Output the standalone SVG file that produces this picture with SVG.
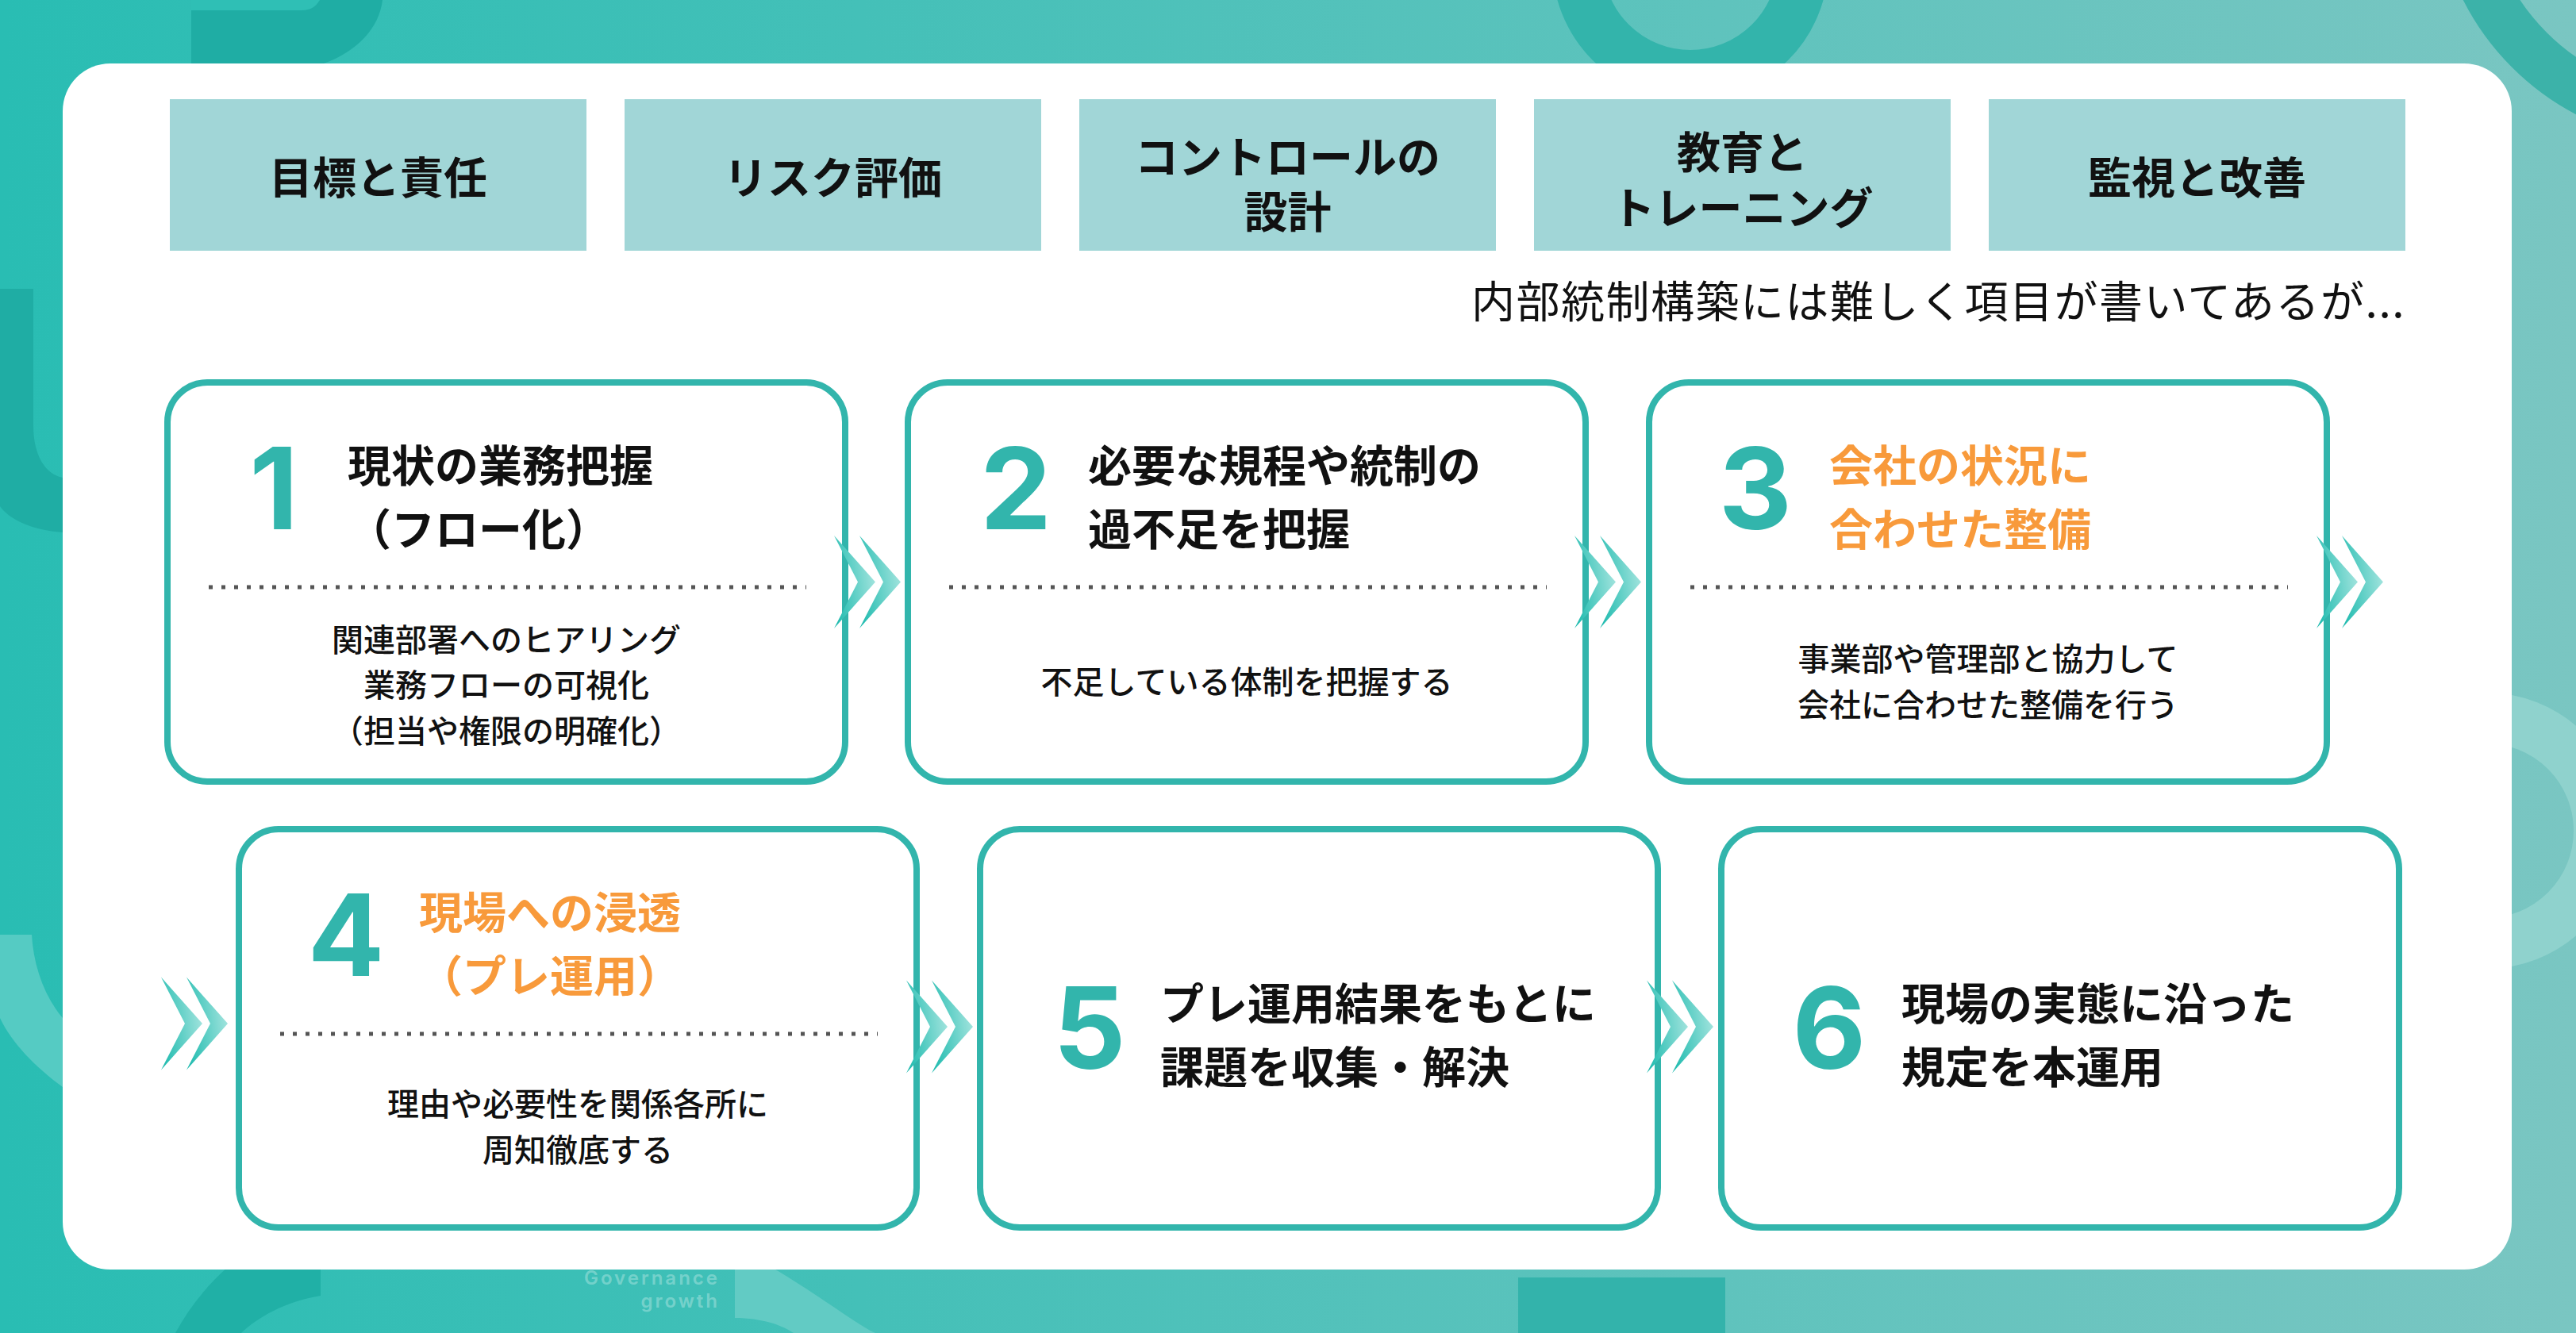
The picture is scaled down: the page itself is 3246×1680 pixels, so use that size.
<svg xmlns="http://www.w3.org/2000/svg" xmlns:xlink="http://www.w3.org/1999/xlink" width="3246" height="1680" viewBox="0 0 3246 1680">
<style>
.hdr{fill:#a1d6d7}
.ht{font-family:"Noto Sans CJK JP","Noto Sans CJK SC",sans-serif;font-weight:700;font-size:55px;fill:#111;text-anchor:middle;dominant-baseline:central}
.box{fill:#fff;stroke:#32b5ac;stroke-width:8}
.num{font-family:Inter,"Noto Sans",sans-serif;font-weight:700;font-size:143px;fill:#32b5ac;text-anchor:middle}
.ttl{font-family:"Noto Sans CJK JP","Noto Sans CJK SC",sans-serif;font-weight:700;font-size:55px;fill:#111;dominant-baseline:central}
.org{fill:#f89a3b}
.dot{stroke:#555;stroke-width:5;stroke-dasharray:5 11}
.desc{font-family:"Noto Sans CJK JP","Noto Sans CJK SC",sans-serif;font-weight:500;font-size:40px;fill:#111;text-anchor:middle;dominant-baseline:central}
.sub{font-family:"Noto Sans CJK JP","Noto Sans CJK SC",sans-serif;font-weight:400;font-size:55px;letter-spacing:1.5px;fill:#111;text-anchor:end;dominant-baseline:central}
.wm{font-family:Inter,"Noto Sans",sans-serif;font-weight:600;font-size:24px;fill:#fff;fill-opacity:0.3;letter-spacing:3px;text-anchor:end}
</style>
<defs>
<linearGradient id="bg" x1="0" y1="0" x2="1" y2="0">
<stop offset="0" stop-color="#29bdb3"/>
<stop offset="1" stop-color="#7ac6c2"/>
</linearGradient>
<linearGradient id="cg" x1="0" y1="0.7" x2="1" y2="0.4">
<stop offset="0" stop-color="#22bcb0"/>
<stop offset="1" stop-color="#a3e4de"/>
</linearGradient>
<g id="chev">
<polygon points="0,-58.5 52,0 0,58.5 30,0" fill="url(#cg)"/>
<polygon points="32,-58.5 84,0 32,58.5 62,0" fill="url(#cg)"/>
</g>
</defs>

<g id="background">
<rect x="0" y="0" width="3246" height="1680" fill="url(#bg)"/>
<path d="M241,0 V80 H408 C450,65 478,35 482,0 Z" fill="#1fada4"/>
<path d="M241,0 H403 C398,8 392,13 380,13 H241 Z" fill="#2fbfb5"/>
<path d="M0,364 H42 V536 C42,575 58,598 79,602 V671 C40,668 12,655 0,638 Z" fill="#1fada4"/>
<path d="M0,1178 H40 C42,1215 55,1255 79,1283 V1370 C45,1345 15,1315 0,1283 Z" fill="#55cbc3"/>
<circle cx="2130" cy="-47" r="142" fill="none" stroke="#33b4ab" stroke-width="64"/>
<circle cx="3400" cy="-150" r="301" fill="none" stroke="#3cb2a9" stroke-width="62"/>
<circle cx="3133" cy="1047" r="142" fill="none" stroke="#8fd2cd" stroke-width="64"/>
<path d="M221,1680 C240,1645 265,1615 295,1590 H404 V1633 C360,1640 325,1660 304,1680 Z" fill="#20b0a6"/>
<path d="M926,1590 H960 C1030,1630 1080,1670 1103,1680 H1000 C985,1670 960,1661 926,1661 Z" fill="#62cbc4"/>
<rect x="1913" y="1610" width="261" height="70" fill="#33b3ab"/>
<text class="wm" x="907" y="1619">Governance</text>
<text class="wm" x="907" y="1648">growth</text>
</g>

<rect id="panel" x="79" y="80" width="3086" height="1520" rx="60" fill="#fff"/>

<g id="headers">
<g id="h1"><rect class="hdr" x="214" y="125" width="525" height="191"/><text class="ht" x="476.5" y="220">目標と責任</text></g>
<g id="h2"><rect class="hdr" x="787" y="125" width="525" height="191"/><text class="ht" x="1049.5" y="220">リスク評価</text></g>
<g id="h3"><rect class="hdr" x="1360" y="125" width="525" height="191"/><text class="ht"><tspan x="1622.5" y="194">コントロールの</tspan><tspan x="1622.5" y="263">設計</tspan></text></g>
<g id="h4"><rect class="hdr" x="1933" y="125" width="525" height="191"/><text class="ht"><tspan x="2195.5" y="188">教育と</tspan><tspan x="2195.5" y="258">トレーニング</tspan></text></g>
<g id="h5"><rect class="hdr" x="2506" y="125" width="525" height="191"/><text class="ht" x="2768.5" y="220">監視と改善</text></g>
</g>

<text id="subtitle" class="sub" x="3031" y="376">内部統制構築には難しく項目が書いてあるが...</text>

<g id="step1">
<rect class="box" x="211" y="482" width="854" height="503" rx="50"/>
<text class="num" x="345" y="667">1</text>
<text class="ttl" x="438" y="583">現状の業務把握</text>
<text class="ttl" x="438" y="663">（フロー化）</text>
<line class="dot" x1="263" y1="740" x2="1016" y2="740"/>
<text class="desc" x="638" y="804">関連部署へのヒアリング</text>
<text class="desc" x="638" y="861">業務フローの可視化</text>
<text class="desc" x="638" y="919">（担当や権限の明確化）</text>
</g>

<g id="step2">
<rect class="box" x="1144" y="482" width="854" height="503" rx="50"/>
<text class="num" x="1280" y="667">2</text>
<text class="ttl" x="1371" y="583">必要な規程や統制の</text>
<text class="ttl" x="1371" y="663">過不足を把握</text>
<line class="dot" x1="1196" y1="740" x2="1949" y2="740"/>
<text class="desc" x="1571" y="857">不足している体制を把握する</text>
</g>

<g id="step3">
<rect class="box" x="2078" y="482" width="854" height="503" rx="50"/>
<text class="num" x="2212" y="667">3</text>
<text class="ttl org" x="2305" y="583">会社の状況に</text>
<text class="ttl org" x="2305" y="663">合わせた整備</text>
<line class="dot" x1="2130" y1="740" x2="2883" y2="740"/>
<text class="desc" x="2505" y="828">事業部や管理部と協力して</text>
<text class="desc" x="2505" y="886">会社に合わせた整備を行う</text>
</g>

<g id="step4">
<rect class="box" x="301" y="1045" width="854" height="502" rx="50"/>
<text class="num" x="436" y="1230">4</text>
<text class="ttl org" x="528" y="1146">現場への浸透</text>
<text class="ttl org" x="528" y="1226">（プレ運用）</text>
<line class="dot" x1="353" y1="1303" x2="1106" y2="1303"/>
<text class="desc" x="728" y="1389">理由や必要性を関係各所に</text>
<text class="desc" x="728" y="1447">周知徹底する</text>
</g>

<g id="step5">
<rect class="box" x="1235" y="1045" width="854" height="502" rx="50"/>
<text class="num" x="1373" y="1347">5</text>
<text class="ttl" x="1462" y="1261">プレ運用結果をもとに</text>
<text class="ttl" x="1462" y="1341">課題を収集・解決</text>
</g>

<g id="step6">
<rect class="box" x="2169" y="1045" width="854" height="502" rx="50"/>
<text class="num" x="2305" y="1347">6</text>
<text class="ttl" x="2396" y="1261">現場の実態に沿った</text>
<text class="ttl" x="2396" y="1341">規定を本運用</text>
</g>

<g id="connectors">
<use xlink:href="#chev" x="1051" y="733.5"/>
<use xlink:href="#chev" x="1984" y="733.5"/>
<use xlink:href="#chev" x="2919" y="733.5"/>
<use xlink:href="#chev" x="203" y="1290"/>
<use xlink:href="#chev" x="1142" y="1294"/>
<use xlink:href="#chev" x="2075" y="1294"/>
</g>
</svg>
